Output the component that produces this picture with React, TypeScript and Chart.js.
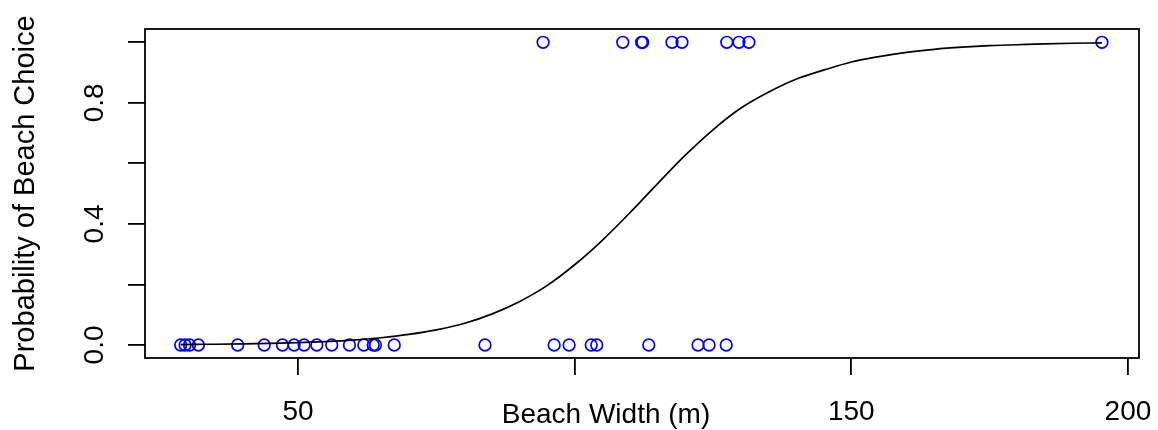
import React, { useEffect, useRef } from "react";
import { Chart, registerables } from "chart.js";

Chart.register(...registerables);

// Beach widths (m) where the beach was NOT chosen (y = 0)
const WIDTH_NOT_CHOSEN = [28.8, 29.6, 30.4, 32.0, 39.1, 43.9, 47.2, 49.3, 51.1, 53.4, 56.1, 59.3, 61.9, 63.6, 64.0, 67.4, 83.8, 96.3, 99.0, 103.0, 104.0, 113.4, 122.3, 124.3, 127.4];
// Beach widths (m) where the beach WAS chosen (y = 1)
const WIDTH_CHOSEN = [94.3, 108.7, 112.1, 112.3, 117.6, 119.4, 127.5, 129.7, 131.5, 195.3];
// Fitted probability curve
const CURVE_X = [28.8, 35, 40, 45, 50, 55, 60, 65, 70, 75, 80, 85, 90, 95, 100, 105, 110, 115, 120, 125, 130, 135, 140, 145, 150, 155, 160, 165, 170, 175, 180, 185, 190, 195.3];
const CURVE_P = [0.0015, 0.0024, 0.0035, 0.0052, 0.0076, 0.011, 0.016, 0.024, 0.035, 0.05, 0.071, 0.102, 0.143, 0.196, 0.265, 0.346, 0.437, 0.533, 0.627, 0.711, 0.782, 0.835, 0.878, 0.908, 0.935, 0.953, 0.967, 0.977, 0.984, 0.989, 0.992, 0.995, 0.997, 0.998];

const X_TICKS = [50, 100, 150, 200];
const X_TICK_LABELS = ["50", "", "150", "200"];
const Y_TICKS = [0, 0.2, 0.4, 0.6, 0.8, 1.0];
const Y_TICK_LABELS = ["0.0", "", "0.4", "", "0.8", ""];
const X_TITLE = "Beach Width (m)";
const Y_TITLE = "Probability of Beach Choice";

const FONT = '28px "Liberation Sans", Arial, sans-serif';
const Y_TITLE_FONT = '29px "Liberation Sans", Arial, sans-serif';

const rPlot = {
  id: "rPlot",
  afterDraw(chart: any) {
    const { ctx, chartArea, scales } = chart;
    const xs = scales.x;
    const ys = scales.y;
    ctx.save();
    // box
    ctx.strokeStyle = "#000";
    ctx.lineWidth = 1.8;
    ctx.strokeRect(chartArea.left, chartArea.top, chartArea.right - chartArea.left, chartArea.bottom - chartArea.top);
    ctx.fillStyle = "#000";
    ctx.font = FONT;
    // x tick labels
    ctx.textAlign = "center";
    ctx.textBaseline = "alphabetic";
    X_TICKS.forEach((v, i) => {
      if (X_TICK_LABELS[i]) ctx.fillText(X_TICK_LABELS[i], xs.getPixelForValue(v), 420);
    });
    // x title
    ctx.fillText(X_TITLE, 606, 423);
    // y tick labels (rotated)
    Y_TICKS.forEach((v, i) => {
      if (!Y_TICK_LABELS[i]) return;
      ctx.save();
      ctx.translate(103, ys.getPixelForValue(v));
      ctx.rotate(-Math.PI / 2);
      ctx.textAlign = "center";
      ctx.fillText(Y_TICK_LABELS[i], 0, 0);
      ctx.restore();
    });
    // y title
    ctx.save();
    ctx.font = Y_TITLE_FONT;
    ctx.translate(34, (chartArea.top + chartArea.bottom) / 2);
    ctx.rotate(-Math.PI / 2);
    ctx.textAlign = "center";
    ctx.fillText(Y_TITLE, 0, 0);
    ctx.restore();
    ctx.restore();
  },
};

export default function App() {
  const ref = useRef<HTMLCanvasElement>(null);
  useEffect(() => {
    document.body.style.margin = "0";
    const chart = new Chart(ref.current as HTMLCanvasElement, {
      type: "scatter",
      data: {
        datasets: [
          {
            type: "line",
            data: CURVE_X.map((x, i) => ({ x, y: CURVE_P[i] })),
            borderColor: "#000",
            borderWidth: 1.7,
            pointRadius: 0,
            cubicInterpolationMode: "monotone",
            fill: false,
          } as any,
          {
            data: WIDTH_NOT_CHOSEN.map((x) => ({ x, y: 0 })),
            pointRadius: 5.8,
            pointStyle: "circle",
            borderColor: "#0000FF",
            backgroundColor: "rgba(0,0,0,0)",
            borderWidth: 1.7,
          },
          {
            data: WIDTH_CHOSEN.map((x) => ({ x, y: 1 })),
            pointRadius: 5.8,
            pointStyle: "circle",
            borderColor: "#0000FF",
            backgroundColor: "rgba(0,0,0,0)",
            borderWidth: 1.7,
          },
        ],
      },
      options: {
        animation: false,
        responsive: false,
        devicePixelRatio: 1,
        layout: { padding: { top: 29, right: 19, left: 0, bottom: 0 } },
        plugins: { legend: { display: false }, tooltip: { enabled: false } },
        scales: {
          x: {
            type: "linear",
            min: 22.35,
            max: 202.0,
            afterBuildTicks: (s: any) => { s.ticks = X_TICKS.map((value) => ({ value })); },
            afterFit: (s: any) => { s.height = 72; },
            ticks: { display: false },
            border: { display: false },
            grid: { drawOnChartArea: false, drawTicks: true, tickLength: 17, color: "#000", lineWidth: 1.8 },
          },
          y: {
            type: "linear",
            min: -0.043,
            max: 1.044,
            afterBuildTicks: (s: any) => { s.ticks = Y_TICKS.map((value) => ({ value })); },
            afterFit: (s: any) => { s.width = 145; },
            ticks: { display: false },
            border: { display: false },
            grid: { drawOnChartArea: false, drawTicks: true, tickLength: 17, color: "#000", lineWidth: 1.8 },
          },
        },
      },
      plugins: [rPlot],
    });
    return () => chart.destroy();
  }, []);
  return (
    <div style={{ position: "absolute", left: 0, top: 0, width: 1158, height: 430, background: "#fff" }}>
      <canvas ref={ref} width={1158} height={430} />
    </div>
  );
}
